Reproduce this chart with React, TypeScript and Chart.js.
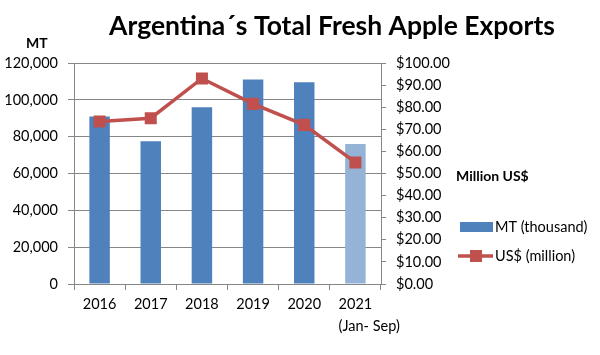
import React, { useEffect, useRef } from "react";
import { Chart, registerables } from "chart.js";

Chart.register(...registerables);

const titleText = "Argentina\u00B4s Total Fresh Apple Exports";
const categories = ["2016", "2017", "2018", "2019", "2020", "2021"];
const categoryNotes = ["", "", "", "", "", "(Jan- Sep)"];
const mtValues = [91000, 77500, 96000, 111000, 109500, 76000];
const usdValues = [73.5, 75.0, 93.0, 81.5, 72.0, 55.0];
const barColors = ["#4F81BD", "#4F81BD", "#4F81BD", "#4F81BD", "#4F81BD", "#95B3D7"];
const leftAxisTitle = "MT";
const rightAxisTitle = "Million US$";
const seriesNames = ["MT (thousand)", "US$ (million)"];
const leftMax = 120000;
const leftStep = 20000;
const rightMax = 100;
const rightStep = 10;

const FONT = "Lato, 'Open Sans', sans-serif";
const BLUE = "#4F81BD";
const RED = "#C0504D";
const GRID = "#868686";

const overlayPlugin = {
  id: "overlay",
  afterDraw(chart: any) {
    const ctx = chart.ctx;
    ctx.save();
    // title
    ctx.fillStyle = "#000";
    ctx.font = `bold 26.5px ${FONT}`;
    ctx.textAlign = "center";
    ctx.textBaseline = "alphabetic";
    ctx.fillText(titleText, 332, 35);
    // axis titles
    ctx.font = `bold 14px ${FONT}`;
    ctx.textAlign = "left";
    ctx.textBaseline = "middle";
    ctx.fillText(leftAxisTitle, 26, 43);
    ctx.fillText(rightAxisTitle, 456, 176);
    // notes under categories
    const xs = chart.scales.x;
    ctx.font = `14.5px ${FONT}`;
    categoryNotes.forEach((n, i) => {
      if (!n) return;
      const cx = xs.getPixelForValue(i);
      const w = ctx.measureText(categories[i]).width;
      ctx.textAlign = "left";
      ctx.fillText(n, cx - w / 2, 326);
    });
    // legend
    ctx.fillStyle = BLUE;
    ctx.fillRect(460, 222, 33, 10);
    ctx.strokeStyle = RED;
    ctx.lineWidth = 3.5;
    ctx.beginPath();
    ctx.moveTo(458, 256);
    ctx.lineTo(493, 256);
    ctx.stroke();
    ctx.fillStyle = RED;
    ctx.fillRect(476 - 6, 256 - 6, 12, 12);
    ctx.fillStyle = "#000";
    ctx.font = `14.5px ${FONT}`;
    ctx.textAlign = "left";
    ctx.fillText(seriesNames[0], 495, 227);
    ctx.fillText(seriesNames[1], 495, 256);
    ctx.restore();
  },
};

export default function App() {
  const ref = useRef<HTMLCanvasElement>(null);
  useEffect(() => {
    if (!ref.current) return;
    const chart = new Chart(ref.current, {
      type: "bar",
      data: {
        labels: categories,
        datasets: [
          {
            type: "line",
            label: seriesNames[1],
            data: usdValues,
            yAxisID: "y1",
            borderColor: RED,
            backgroundColor: RED,
            borderWidth: 3.5,
            pointStyle: "rect",
            pointRadius: 8.5,
            pointBackgroundColor: RED,
            pointBorderColor: RED,
            pointBorderWidth: 0,
            tension: 0,
            order: 0,
          } as any,
          {
            type: "bar",
            label: seriesNames[0],
            data: mtValues,
            yAxisID: "y",
            backgroundColor: barColors,
            borderWidth: 0,
            barPercentage: 0.4,
            categoryPercentage: 1.0,
            order: 1,
          },
        ],
      },
      options: {
        responsive: false,
        animation: false,
        devicePixelRatio: 1,
        layout: { padding: { top: 63, left: 0, right: 0, bottom: 0 } },
        plugins: {
          legend: { display: false },
          title: { display: false },
          tooltip: { enabled: false },
        },
        scales: {
          x: {
            offset: true,
            grid: {
              offset: true,
              drawOnChartArea: false,
              drawTicks: true,
              tickLength: 6,
              color: GRID,
            },
            border: { display: true, color: GRID, width: 1 },
            ticks: {
              color: "#000",
              font: { family: FONT, size: 14.5 },
              padding: 6,
              maxRotation: 0,
              autoSkip: false,
            },
            afterFit(scale: any) {
              scale.height = 71;
            },
          },
          y: {
            position: "left",
            min: 0,
            max: leftMax,
            ticks: {
              stepSize: leftStep,
              color: "#000",
              font: { family: FONT, size: 14.5 },
              padding: 10,
              callback: (v: any) => Number(v).toLocaleString("en-US"),
            },
            grid: { color: GRID, tickLength: 6, drawTicks: true },
            border: { display: true, color: GRID, width: 1 },
            afterFit(scale: any) {
              scale.width = 74;
            },
          },
          y1: {
            position: "right",
            min: 0,
            max: rightMax,
            ticks: {
              stepSize: rightStep,
              color: "#000",
              font: { family: FONT, size: 14.5 },
              padding: 10,
              callback: (v: any) => "$" + Number(v).toFixed(2),
            },
            grid: { drawOnChartArea: false, color: GRID, tickLength: 5, drawTicks: true },
            border: { display: true, color: GRID, width: 1 },
            afterFit(scale: any) {
              scale.width = 219;
            },
          },
        },
      },
      plugins: [overlayPlugin],
    });
    return () => chart.destroy();
  }, []);
  return (
    <div style={{ position: "fixed", left: 0, top: 0, width: 600, height: 355, background: "#fff" }}>
      <canvas ref={ref} width={600} height={355} />
    </div>
  );
}
